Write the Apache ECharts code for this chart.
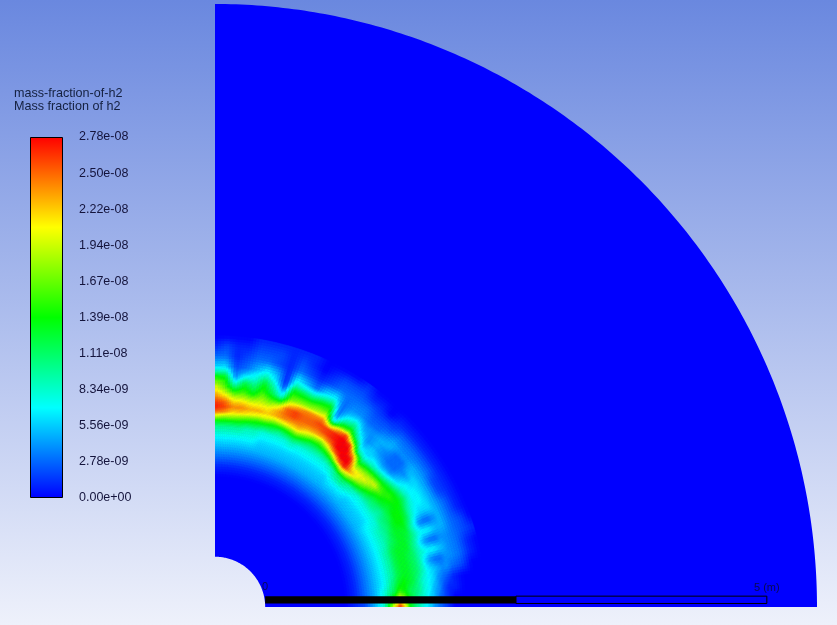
<!DOCTYPE html>
<html><head><meta charset="utf-8">
<style>html,body{margin:0;padding:0;background:#fff}#c{width:837px;height:625px}</style>
<script src="https://cdn.jsdelivr.net/npm/echarts@6/dist/echarts.min.js"></script>
</head><body><div id="c"></div>
<script>
const legendTitle = ['mass-fraction-of-h2', 'Mass fraction of h2'];
const tickLabels = ['0.00e+00','2.78e-09','5.56e-09','8.34e-09','1.11e-08','1.39e-08','1.67e-08','1.94e-08','2.22e-08','2.50e-08','2.78e-08'];
const valueMax = 27.8;
const innerRadius = 0.5, outerRadius = 6;
const scaleTicks = [0, 5];
const thetas = [0,2.5,5,7.5,10,12.5,15,17.5,20,22.5,25,27.5,30,32.5,35,37.5,40,42.5,45,47.5,50,52.5,55,57.5,60,62.5,65,67.5,70,72.5,75,77.5,80,82.5,85,87.5,90];
const radii = [1.30,1.40,1.50,1.60,1.70,1.80,1.85,1.90,1.95,2.00,2.05,2.10,2.15,2.20,2.25,2.30,2.35,2.40,2.50,2.60,2.70];
// mass fraction in units of 1e-9, one row per angle, one column per radius
const h2 = [
[0,1,2,5,9,22,27,22,14,11,9,7,6,4,3,2,1,0,0,0,0],
[0,1,2,5,8,16,21,17,13,11,9,8,6,5,3,2,1,0,0,0,0],
[0,1,3,5,8,12,15,14,12,11,10,8,7,5,4,2,1,1,0,0,0],
[0,1,3,5,7,11,13,14,13,12,10,8,7,6,4,3,2,1,0,0,0],
[0,1,3,5,7,10,12,13,13,12,11,9,7,6,5,4,4,3,2,0,0],
[0,1,3,5,7,10,12,13,13,12,11,9,6,4,3,3,4,4,3,1,0],
[0,1,3,5,7,10,12,13,13,12,11,9,8,7,7,6,5,4,3,1,0],
[0,1,3,5,7,10,12,13,13,13,11,9,6,4,3,3,4,4,3,2,1],
[0,1,3,5,7,9,11,12,13,13,12,10,8,7,7,6,5,5,3,2,0],
[0,1,3,5,7,9,10,12,13,13,13,10,7,4,3,3,4,5,3,1,0],
[0,1,3,5,7,9,10,11,13,14,14,12,9,7,6,6,6,5,3,1,0],
[0,1,3,5,7,8,10,11,12,14,14,13,10,8,7,7,6,5,2,1,0],
[0,1,3,5,6,8,9,10,12,13,14,14,12,9,7,7,6,5,2,1,0],
[0,1,3,5,6,8,10,11,13,14,15,14,11,8,7,6,6,5,3,1,0],
[0,1,3,5,6,8,10,12,14,16,15,13,9,6,5,4,5,5,3,1,0],
[0,1,3,5,6,8,11,14,17,20,16,11,7,4,3,3,3,4,3,1,0],
[0,1,3,5,6,9,13,17,20,19,15,10,6,4,3,3,3,4,3,1,0],
[0,1,3,5,7,10,15,20,21,18,14,9,7,5,4,4,5,5,3,1,0],
[0,1,3,5,7,12,18,23,21,17,12,8,6,6,5,5,5,4,2,1,0],
[0,1,3,5,7,11,19,27,28,27,22,11,7,5,4,4,4,3,2,0,0],
[0,1,3,5,6,9,14,24,28,28,28,26,16,10,7,5,4,3,2,1,0],
[0,1,3,5,6,8,11,17,25,28,28,28,26,17,12,9,6,4,3,1,0],
[0,1,3,5,6,8,10,14,20,25,27,27,23,15,10,7,5,4,3,2,1],
[0,1,3,5,6,8,10,13,17,23,26,26,18,7,4,3,3,3,3,2,0],
[0,1,3,5,6,8,10,13,18,23,25,26,24,20,16,14,10,7,3,2,0],
[0,1,3,5,6,8,11,15,20,23,25,25,24,19,16,13,9,6,2,1,0],
[0,1,3,5,6,9,12,17,22,24,25,25,24,18,15,11,7,3,1,0,0],
[0,1,3,5,6,8,11,15,21,24,26,26,23,18,15,12,8,5,2,1,1],
[0,1,3,5,6,8,10,14,20,24,25,25,21,17,15,13,9,7,3,2,1],
[0,1,3,5,6,8,11,14,19,23,23,20,14,8,5,2,1,1,1,1,1],
[0,1,3,5,6,8,11,15,20,22,21,18,15,12,10,8,6,5,2,2,1],
[0,1,3,5,7,9,12,15,20,23,21,19,17,15,14,12,9,7,3,2,1],
[0,1,3,5,7,9,12,16,21,23,21,18,14,12,10,8,7,5,3,2,1],
[0,1,3,5,7,10,13,17,22,24,22,19,16,14,12,8,5,3,2,1,0],
[0,1,3,5,7,10,13,18,22,24,22,19,15,11,7,4,3,2,1,1,0],
[0,1,3,5,7,10,13,18,24,26,25,22,19,16,15,13,9,6,3,2,0],
[0,1,3,5,7,10,13,19,25,27,26,24,22,20,17,14,9,6,3,1,0]
];

const stops = [[0,[0,0,255]],[0.25,[0,255,255]],[0.5,[0,255,0]],[0.75,[255,255,0]],[1,[255,0,0]]];
function jet(v){
  const t = Math.max(0, Math.min(1, v / valueMax));
  for (let i = 1; i < stops.length; i++) {
    if (t <= stops[i][0]) {
      const a = stops[i-1], b = stops[i], f = (t - a[0]) / (b[0] - a[0]);
      return 'rgb(' + [0,1,2].map(k => Math.round(a[1][k] + (b[1][k] - a[1][k]) * f)).join(',') + ')';
    }
  }
  return 'rgb(255,0,0)';
}
const polar = (api, r, deg) => {
  const a = deg * Math.PI / 180;
  return api.coord([r * Math.cos(a), r * Math.sin(a)]);
};

const cells = [];
for (let i = 0; i < thetas.length - 1; i++) {
  for (let j = 0; j < radii.length - 1; j++) {
    cells.push([i, j, h2[i][j], h2[i+1][j], h2[i][j+1], h2[i+1][j+1]]);
  }
}
const SUB = 4;
function renderCell(params, api){
  const i = api.value(0), j = api.value(1);
  const v00 = api.value(2), v10 = api.value(3), v01 = api.value(4), v11 = api.value(5);
  if (v00 + v10 + v01 + v11 === 0) return null;
  const t0 = thetas[i], t1 = thetas[i+1], r0 = radii[j], r1 = radii[j+1];
  const children = [];
  for (let a = 0; a < SUB; a++) for (let b = 0; b < SUB; b++) {
    const ta = t0 + (t1 - t0) * a / SUB, tb = t0 + (t1 - t0) * (a + 1) / SUB;
    const ra = r0 + (r1 - r0) * b / SUB, rb = r0 + (r1 - r0) * (b + 1) / SUB;
    const u = (a + .5) / SUB, w = (b + .5) / SUB;
    const v = v00*(1-u)*(1-w) + v10*u*(1-w) + v01*(1-u)*w + v11*u*w;
    const c = jet(v);
    children.push({type:'polygon', silent:true,
      shape:{points:[polar(api,ra,ta),polar(api,rb,ta),polar(api,rb,tb),polar(api,ra,tb)]},
      style:{fill:c, stroke:c, lineWidth:0.6}});
  }
  return {type:'group', children};
}
function renderDomain(params, api){
  const pts = [];
  for (let d = 0; d <= 90; d += 0.5) pts.push(polar(api, api.value(1), d));
  for (let d = 90; d >= 0; d -= 1) pts.push(polar(api, api.value(0), d));
  return {type:'polygon', silent:true, shape:{points:pts}, style:{fill:'#0000ff'}};
}
function renderScale(params, api){
  const o = innerRadius, len = api.value(1) - api.value(0);
  const y0 = 0.035, y1 = 0.108;
  const a = api.coord([o, y1]), m = api.coord([o + len/2, y0]), e = api.coord([o + len, y0]);
  const ink = '#0a0a50';
  const l0 = api.coord([o, 0.2]), l1 = api.coord([o + len, 0.19]);
  return {type:'group', children:[
    {type:'rect', silent:true, shape:{x:a[0],y:a[1],width:m[0]-a[0],height:m[1]-a[1]}, style:{fill:'#000'}},
    {type:'rect', silent:true, shape:{x:m[0],y:a[1],width:e[0]-m[0],height:e[1]-a[1]}, style:{fill:'none',stroke:'#000',lineWidth:1}},
    {type:'text', silent:true, style:{x:l0[0],y:l0[1],text:String(scaleTicks[0]),fill:ink,font:'11px "Liberation Sans"',align:'center',verticalAlign:'middle'}},
    {type:'text', silent:true, style:{x:l1[0],y:l1[1],text:scaleTicks[1]+' (m)',fill:ink,font:'11px "Liberation Sans"',align:'center',verticalAlign:'middle'}}
  ]};
}

const chart = echarts.init(document.getElementById('c'), null, {renderer:'canvas'});
const G = echarts.graphic.LinearGradient;
chart.setOption({
  animation:false,
  backgroundColor:new G(0,0,0,1,[{offset:0,color:'#6a88df'},{offset:1,color:'#eef1fb'}]),
  grid:[
    {left:215, top:4, width:602, height:603},
    {left:30, top:137, width:33, height:361}
  ],
  xAxis:[
    {gridIndex:0, type:'value', min:0, max:outerRadius, show:false},
    {gridIndex:1, type:'category', data:['h2'], show:false}
  ],
  yAxis:[
    {gridIndex:0, type:'value', min:0, max:outerRadius, show:false},
    {gridIndex:1, type:'value', min:0, max:valueMax, interval:valueMax/10, position:'right',
     axisLine:{show:false}, axisTick:{show:false}, splitLine:{show:false},
     axisLabel:{show:true, margin:16, color:'#14143c', fontFamily:'Liberation Sans', fontSize:12.5, padding:[2,0,0,0],
       formatter:(v,i)=>tickLabels[i]}}
  ],
  graphic:[
    {type:'text', left:14, top:87, silent:true, style:{text:legendTitle[0], fill:'#14203f', font:'12.6px "Liberation Sans"'}},
    {type:'text', left:14, top:100, silent:true, style:{text:legendTitle[1], fill:'#14203f', font:'12.6px "Liberation Sans"'}}
  ],
  series:[
    {type:'custom', xAxisIndex:0, yAxisIndex:0, clip:false, silent:true, renderItem:renderDomain, data:[[innerRadius,outerRadius]], z:1},
    {type:'custom', xAxisIndex:0, yAxisIndex:0, clip:true, silent:true, progressive:0, renderItem:renderCell, data:cells, z:2},
    {type:'custom', xAxisIndex:0, yAxisIndex:0, clip:false, silent:true, renderItem:renderScale, data:[scaleTicks], z:3},
    {type:'bar', xAxisIndex:1, yAxisIndex:1, silent:true, barWidth:'100%', data:[valueMax], z:3,
     itemStyle:{borderColor:'#000', borderWidth:1,
       color:new G(0,1,0,0,stops.map(s=>({offset:s[0],color:'rgb('+s[1].join(',')+')'})))}}
  ]
});
</script></body></html>
